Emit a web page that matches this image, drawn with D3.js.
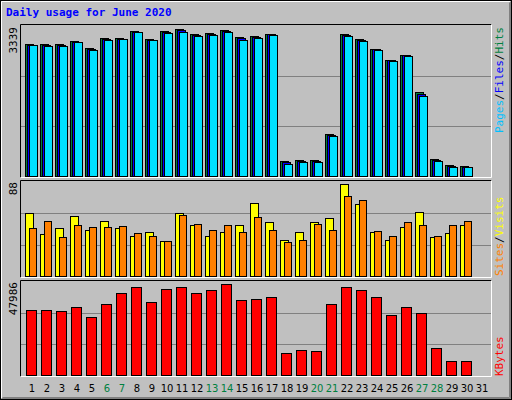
<!DOCTYPE html>
<html><head><meta charset="utf-8">
<script src="https://cdn.jsdelivr.net/npm/d3@7"></script>
<style>body{margin:0;background:#fff}</style></head>
<body><svg id="c" width="512" height="400"></svg>
<script>
const days = d3.range(1, 32);
const weekend = [6,7,13,14,20,21,27,28];
const hits  = [2921,2921,2921,2987,2833,3053,3046,3207,3031,3207,3251,3141,3163,3229,3075,3097,3141,345,367,367,939,3141,3031,2811,2569,2679,1864,389,257,235,0];
const files = [2910,2905,2905,2975,2815,3035,3038,3195,3018,3190,3230,3125,3148,3210,3050,3080,3132,325,355,355,920,3125,3015,2802,2560,2670,1830,378,240,228,0];
const pages = [2899,2877,2877,2957,2789,3009,3023,3178,3001,3156,3178,3097,3119,3178,3009,3053,3119,294,338,338,895,3097,2987,2789,2546,2657,1776,360,213,213,0];
const visits = [59,39,45,56,43,51,45,38,41,33,59,48,38,41,48,68,50,34,41,50,54,85,67,41,34,46,60,37,40,48,0];
const sites  = [45,51,37,48,46,46,47,40,38,33,57,49,43,48,41,55,43,32,34,49,43,74,71,42,38,50,48,38,48,51,0];
const kbytes = [33117,33117,32610,34638,29569,36159,41735,44776,37172,43762,44776,41735,43255,46296,38186,38693,39707,11828,13348,12841,36159,44776,43255,39707,30583,34638,31597,14362,7772,7772,0];
const maxTop = 3339, maxMid = 88, maxBot = 47986;

const svg = d3.select("#c");
svg.append("rect").attr("x",0).attr("y",0).attr("width",512).attr("height",400).attr("fill","#c0c0c0");
// outer bevel
svg.append("rect").attr("x",0.5).attr("y",0.5).attr("width",511).attr("height",399).attr("fill","none").attr("stroke","#000");
svg.append("path").attr("d","M1.5,398.5V1.5H510.5").attr("stroke","#fff").attr("fill","none");
svg.append("path").attr("d","M2.5,397.5H509.5V2.5").attr("stroke","#808080").attr("fill","none");
svg.append("path").attr("d","M1.5,398.5H510.5V1.5").attr("stroke","#808080").attr("fill","none");

svg.append("text").attr("x",6).attr("y",16).text("Daily usage for June 2020")
  .attr("font-family","DejaVu Sans Mono").attr("font-weight","bold").attr("font-size",11).attr("fill","#0000ff");

const x = d3.scaleBand().domain(days).range([24, 489]).paddingInner(0);
const L = 20, R = 491;
function panel(y0, y1) {
  svg.append("path").attr("d",`M${L+0.5},${y1+0.5}V${y0+0.5}H${R+0.5}`).attr("stroke","#000").attr("fill","none");
  svg.append("path").attr("d",`M${L+0.5},${y1+0.5}H${R+0.5}V${y0+0.5}`).attr("stroke","#fff").attr("fill","none");
  const y = d3.scaleLinear().domain([0,1]).range([y1, y0+1]);
  [1/3, 2/3].forEach(f => svg.append("line").attr("x1",L+1).attr("x2",R).attr("y1",Math.round(y(f))+0.5).attr("y2",Math.round(y(f))+0.5).attr("stroke","#808080"));
}
function bars(data, max, y0, y1, dx, w, color) {
  const y = d3.scaleLinear().domain([0,max]).range([y1, y0+1]);
  svg.append("g").selectAll("rect").data(data.map((v,i)=>({v,d:days[i]})).filter(o=>o.v>0)).join("rect")
    .attr("x", o => Math.round(x(o.d)) + dx + 0.5).attr("y", o => Math.round(y(o.v)) + 0.5)
    .attr("width", w).attr("height", o => y1 - Math.round(y(o.v)) - 1)
    .attr("fill", color).attr("stroke", "#000");
}
function vlabel(txt, x0, y0, anchor) {
  return svg.append("text").attr("transform",`translate(${x0},${y0}) rotate(-90)`).attr("text-anchor",anchor)
    .attr("font-family","DejaVu Sans Mono").attr("font-size",11);
}
// top
panel(24, 177);
bars(hits, maxTop, 24, 177, 1, 8, "#008040");
bars(files, maxTop, 24, 177, 3, 8, "#0000ff");
bars(pages, maxTop, 24, 177, 5, 8, "#00e0ff");
vlabel("",17,27,"end").text(maxTop).attr("fill","#000");
let t = vlabel("",503,27,"end");
t.append("tspan").attr("fill","#00c0ff").text("Pages");
t.append("tspan").attr("fill","#000").text("/");
t.append("tspan").attr("fill","#0000ff").text("Files");
t.append("tspan").attr("fill","#000").text("/");
t.append("tspan").attr("fill","#008040").text("Hits");
// middle
panel(180, 277);
bars(visits, maxMid, 180, 277, 1, 8, "#ffff00");
bars(sites, maxMid, 180, 277, 5, 7, "#ff8000");
vlabel("",17,182,"end").text(maxMid).attr("fill","#000");
t = vlabel("",503,276,"start");
t.append("tspan").attr("fill","#ff8000").text("Sites");
t.append("tspan").attr("fill","#000").text("/");
t.append("tspan").attr("fill","#ffff00").text("Visits");
// bottom
panel(280, 376);
bars(kbytes, maxBot, 280, 376, 2, 10, "#ff0000");
vlabel("",17,282,"end").text(maxBot).attr("fill","#000");
vlabel("",503,376,"start").text("KBytes").attr("fill","#ff0000");
// day labels
svg.append("g").selectAll("text").data(days).join("text")
  .attr("x", d => x(d) + 8).attr("y", 392).attr("text-anchor","middle")
  .attr("font-family","DejaVu Sans").attr("font-size",10)
  .attr("fill", d => weekend.includes(d) ? "#008040" : "#000").text(d => d);
</script></body></html>
